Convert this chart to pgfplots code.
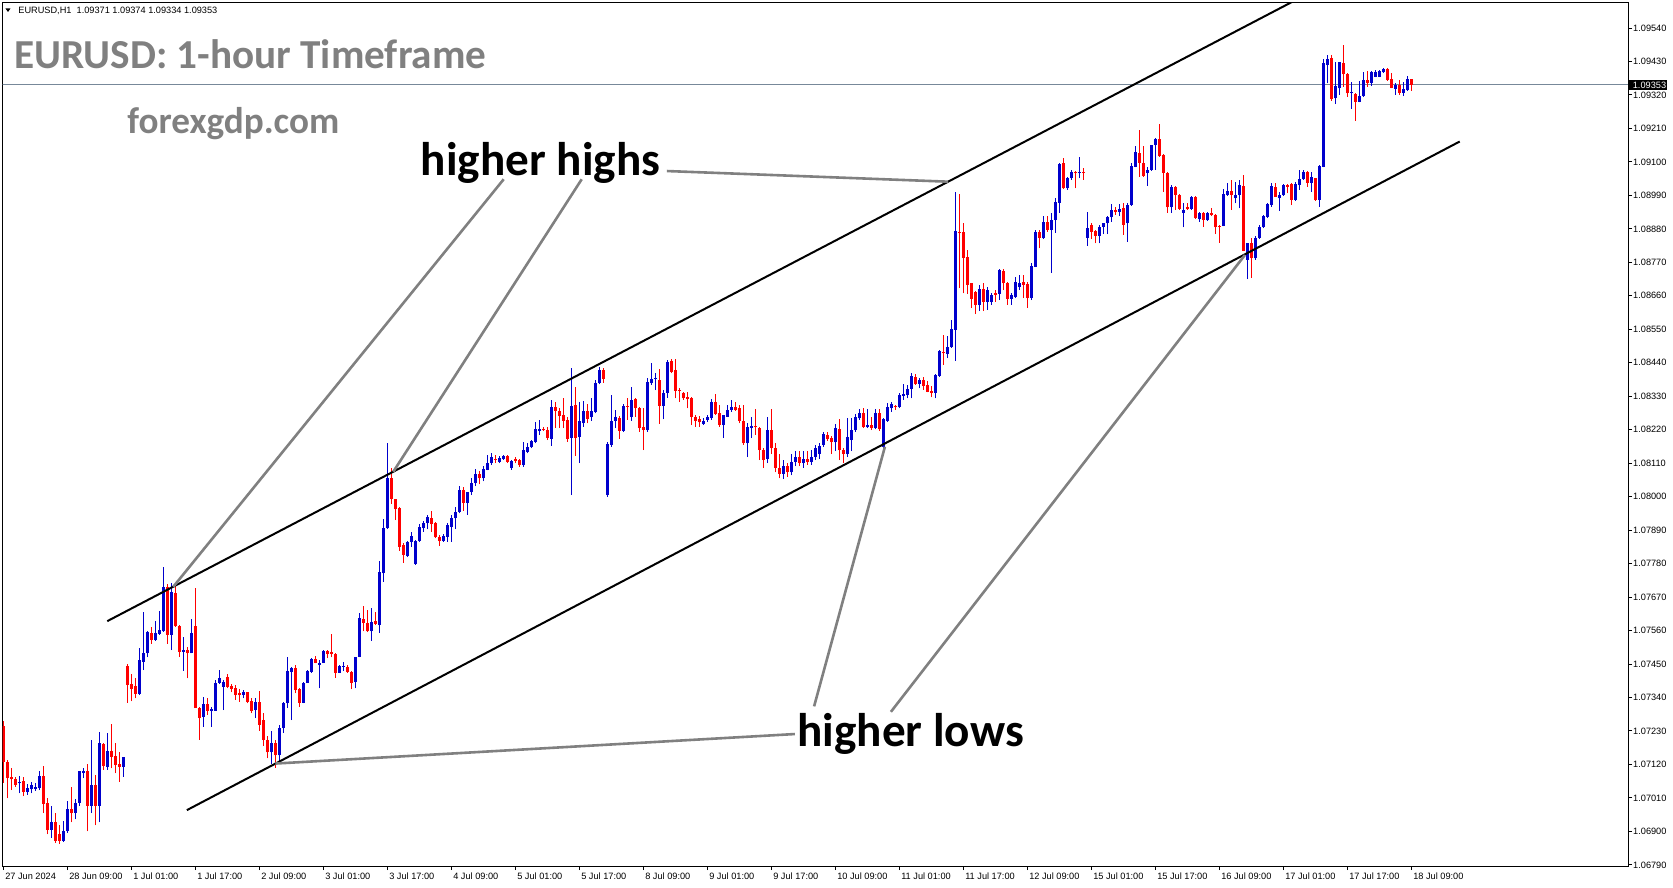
\documentclass[border=0pt]{standalone}
\usepackage{fontspec}
\setmainfont{Carlito}
\newfontfamily\lib{Liberation Sans}
\usepackage{pgfplots}
\usepackage{pgfplotstable}
\pgfplotsset{compat=1.18}

\definecolor{mtblue}{RGB}{0,0,204}
\definecolor{mtred}{RGB}{255,0,0}
\definecolor{anngray}{RGB}{128,128,128}
\definecolor{bidline}{RGB}{119,136,153}

% EURUSD H1, bar index from 27 Jun 17:00 (0) to 18 Jul 09:00 (352)
\pgfplotstableread{
i o h l c
0 1.07245 1.07262 1.07060 1.07129
1 1.07129 1.07135 1.07009 1.07075
2 1.07078 1.07107 1.07036 1.07071
3 1.07072 1.07080 1.07047 1.07053
4 1.07058 1.07082 1.07025 1.07064
5 1.07066 1.07080 1.07016 1.07031
6 1.07031 1.07056 1.07020 1.07042
7 1.07038 1.07061 1.07025 1.07053
8 1.07040 1.07058 1.07033 1.07047
9 1.07044 1.07099 1.07036 1.07082
10 1.07082 1.07115 1.06960 1.06990
11 1.06995 1.07010 1.06890 1.06905
12 1.06905 1.06985 1.06880 1.06930
13 1.06930 1.06960 1.06862 1.06870
14 1.06890 1.06920 1.06860 1.06870
15 1.06870 1.06935 1.06865 1.06900
16 1.06900 1.07000 1.06895 1.06975
17 1.06975 1.07047 1.06930 1.06960
18 1.06960 1.07006 1.06940 1.06995
19 1.06995 1.07099 1.06985 1.07099
20 1.07093 1.07107 1.07075 1.07099
21 1.07099 1.07122 1.06900 1.06985
22 1.06985 1.07201 1.06960 1.07053
23 1.07053 1.07084 1.06920 1.06985
24 1.06985 1.07226 1.06930 1.07190
25 1.07187 1.07190 1.07102 1.07115
26 1.07113 1.07222 1.07102 1.07164
27 1.07164 1.07253 1.07107 1.07146
28 1.07149 1.07190 1.07091 1.07118
29 1.07122 1.07162 1.07064 1.07113
30 1.07113 1.07146 1.07080 1.07146
31 1.07444 1.07450 1.07323 1.07381
32 1.07385 1.07417 1.07327 1.07368
33 1.07378 1.07403 1.07337 1.07352
34 1.07352 1.07502 1.07348 1.07463
35 1.07458 1.07622 1.07430 1.07485
36 1.07485 1.07557 1.07472 1.07554
37 1.07551 1.07573 1.07516 1.07529
38 1.07529 1.07592 1.07527 1.07551
39 1.07549 1.07624 1.07546 1.07562
40 1.07557 1.07768 1.07556 1.07702
41 1.07702 1.07712 1.07516 1.07546
42 1.07546 1.07715 1.07496 1.07688
43 1.07685 1.07710 1.07573 1.07575
44 1.07575 1.07578 1.07474 1.07491
45 1.07491 1.07540 1.07428 1.07496
46 1.07496 1.07507 1.07403 1.07485
47 1.07485 1.07598 1.07485 1.07551
48 1.07575 1.07699 1.07305 1.07305
49 1.07305 1.07310 1.07201 1.07272
50 1.07277 1.07343 1.07244 1.07318
51 1.07318 1.07338 1.07283 1.07297
52 1.07297 1.07310 1.07244 1.07302
53 1.07297 1.07398 1.07297 1.07389
54 1.07389 1.07431 1.07385 1.07405
55 1.07376 1.07398 1.07299 1.07390
56 1.07407 1.07417 1.07370 1.07376
57 1.07379 1.07384 1.07357 1.07368
58 1.07370 1.07381 1.07332 1.07348
59 1.07354 1.07367 1.07326 1.07348
60 1.07348 1.07365 1.07337 1.07357
61 1.07357 1.07359 1.07321 1.07326
62 1.07330 1.07337 1.07288 1.07297
63 1.07299 1.07337 1.07272 1.07326
64 1.07326 1.07363 1.07230 1.07250
65 1.07266 1.07288 1.07180 1.07200
66 1.07200 1.07215 1.07140 1.07160
67 1.07160 1.07230 1.07120 1.07190
68 1.07190 1.07200 1.07110 1.07150
69 1.07150 1.07250 1.07130 1.07240
70 1.07240 1.07325 1.07225 1.07323
71 1.07321 1.07474 1.07305 1.07427
72 1.07425 1.07441 1.07266 1.07436
73 1.07436 1.07447 1.07354 1.07365
74 1.07368 1.07370 1.07310 1.07323
75 1.07323 1.07392 1.07321 1.07387
76 1.07387 1.07430 1.07387 1.07427
77 1.07425 1.07469 1.07422 1.07467
78 1.07467 1.07477 1.07452 1.07455
79 1.07447 1.07463 1.07370 1.07453
80 1.07453 1.07496 1.07453 1.07494
81 1.07494 1.07496 1.07469 1.07483
82 1.07488 1.07549 1.07472 1.07483
83 1.07483 1.07485 1.07405 1.07422
84 1.07422 1.07447 1.07420 1.07444
85 1.07441 1.07458 1.07427 1.07441
86 1.07441 1.07447 1.07422 1.07425
87 1.07425 1.07427 1.07367 1.07389
88 1.07392 1.07474 1.07370 1.07472
89 1.07474 1.07619 1.07472 1.07602
90 1.07597 1.07641 1.07557 1.07586
91 1.07584 1.07628 1.07555 1.07557
92 1.07557 1.07633 1.07527 1.07589
93 1.07592 1.07622 1.07578 1.07582
94 1.07578 1.07787 1.07553 1.07754
95 1.07748 1.07926 1.07721 1.07898
96 1.07896 1.08175 1.07894 1.08062
97 1.08062 1.08093 1.07976 1.07991
98 1.07991 1.07993 1.07923 1.07958
99 1.07964 1.07966 1.07823 1.07836
100 1.07841 1.07847 1.07783 1.07808
101 1.07805 1.07855 1.07801 1.07852
102 1.07852 1.07885 1.07836 1.07872
103 1.07779 1.07857 1.07777 1.07855
104 1.07854 1.07910 1.07852 1.07901
105 1.07898 1.07920 1.07885 1.07912
106 1.07912 1.07940 1.07893 1.07932
107 1.07931 1.07953 1.07885 1.07909
108 1.07915 1.07918 1.07863 1.07866
109 1.07866 1.07874 1.07839 1.07854
110 1.07854 1.07877 1.07852 1.07872
111 1.07869 1.07912 1.07852 1.07907
112 1.07901 1.07940 1.07852 1.07931
113 1.07929 1.07967 1.07893 1.07951
114 1.07949 1.08035 1.07945 1.08022
115 1.08022 1.08033 1.07954 1.07980
116 1.07980 1.08016 1.07940 1.08016
117 1.08016 1.08060 1.08005 1.08045
118 1.08045 1.08090 1.08035 1.08075
119 1.08075 1.08085 1.08040 1.08060
120 1.08060 1.08100 1.08050 1.08090
121 1.08088 1.08137 1.08086 1.08110
122 1.08110 1.08142 1.08105 1.08129
123 1.08125 1.08137 1.08110 1.08121
124 1.08115 1.08134 1.08110 1.08126
125 1.08123 1.08137 1.08121 1.08134
126 1.08134 1.08137 1.08110 1.08115
127 1.08095 1.08121 1.08088 1.08117
128 1.08123 1.08130 1.08110 1.08118
129 1.08121 1.08123 1.08099 1.08104
130 1.08104 1.08181 1.08099 1.08153
131 1.08148 1.08175 1.08142 1.08164
132 1.08162 1.08186 1.08159 1.08184
133 1.08181 1.08247 1.08175 1.08223
134 1.08217 1.08252 1.08203 1.08223
135 1.08223 1.08228 1.08215 1.08219
136 1.08219 1.08230 1.08186 1.08194
137 1.08190 1.08318 1.08167 1.08294
138 1.08294 1.08310 1.08225 1.08283
139 1.08283 1.08290 1.08225 1.08265
140 1.08268 1.08323 1.08225 1.08250
141 1.08252 1.08261 1.08180 1.08190
142 1.08194 1.08422 1.08005 1.08298
143 1.08301 1.08362 1.08135 1.08194
144 1.08196 1.08312 1.08110 1.08247
145 1.08241 1.08314 1.08230 1.08283
146 1.08283 1.08305 1.08241 1.08256
147 1.08261 1.08323 1.08250 1.08283
148 1.08279 1.08383 1.08274 1.08375
149 1.08372 1.08427 1.08369 1.08416
150 1.08416 1.08422 1.08375 1.08386
151 1.08005 1.08180 1.08000 1.08173
152 1.08170 1.08334 1.08164 1.08250
153 1.08250 1.08285 1.08225 1.08263
154 1.08260 1.08265 1.08190 1.08216
155 1.08217 1.08305 1.08212 1.08298
156 1.08298 1.08323 1.08252 1.08294
157 1.08263 1.08361 1.08250 1.08318
158 1.08320 1.08323 1.08263 1.08290
159 1.08290 1.08294 1.08214 1.08225
160 1.08230 1.08290 1.08153 1.08219
161 1.08219 1.08389 1.08214 1.08378
162 1.08372 1.08438 1.08367 1.08386
163 1.08386 1.08405 1.08350 1.08386
164 1.08383 1.08420 1.08240 1.08298
165 1.08298 1.08350 1.08254 1.08340
166 1.08342 1.08449 1.08325 1.08444
167 1.08447 1.08453 1.08405 1.08411
168 1.08416 1.08453 1.08323 1.08348
169 1.08351 1.08356 1.08312 1.08348
170 1.08340 1.08345 1.08318 1.08323
171 1.08326 1.08345 1.08290 1.08320
172 1.08323 1.08328 1.08235 1.08263
173 1.08263 1.08267 1.08230 1.08250
174 1.08255 1.08266 1.08230 1.08244
175 1.08239 1.08257 1.08236 1.08250
176 1.08252 1.08268 1.08246 1.08263
177 1.08257 1.08320 1.08252 1.08312
178 1.08312 1.08337 1.08268 1.08272
179 1.08274 1.08301 1.08230 1.08236
180 1.08236 1.08268 1.08192 1.08268
181 1.08263 1.08301 1.08261 1.08285
182 1.08285 1.08316 1.08279 1.08296
183 1.08296 1.08312 1.08283 1.08285
184 1.08290 1.08301 1.08241 1.08250
185 1.08250 1.08301 1.08170 1.08175
186 1.08175 1.08241 1.08130 1.08228
187 1.08225 1.08263 1.08192 1.08233
188 1.08233 1.08287 1.08203 1.08228
189 1.08225 1.08230 1.08120 1.08153
190 1.08153 1.08160 1.08095 1.08120
191 1.08125 1.08263 1.08110 1.08220
192 1.08220 1.08287 1.08140 1.08159
193 1.08159 1.08175 1.08080 1.08095
194 1.08095 1.08140 1.08060 1.08075
195 1.08075 1.08120 1.08058 1.08100
196 1.08100 1.08110 1.08065 1.08080
197 1.08080 1.08140 1.08070 1.08115
198 1.08115 1.08150 1.08100 1.08130
199 1.08130 1.08150 1.08100 1.08110
200 1.08110 1.08150 1.08095 1.08125
201 1.08125 1.08150 1.08105 1.08115
202 1.08115 1.08155 1.08105 1.08130
203 1.08130 1.08170 1.08120 1.08160
204 1.08140 1.08175 1.08125 1.08168
205 1.08170 1.08214 1.08164 1.08206
206 1.08203 1.08214 1.08184 1.08189
207 1.08192 1.08200 1.08140 1.08178
208 1.08178 1.08239 1.08150 1.08227
209 1.08222 1.08255 1.08120 1.08153
210 1.08153 1.08160 1.08110 1.08140
211 1.08140 1.08257 1.08130 1.08195
212 1.08186 1.08257 1.08150 1.08219
213 1.08219 1.08272 1.08214 1.08263
214 1.08257 1.08287 1.08252 1.08276
215 1.08276 1.08290 1.08225 1.08228
216 1.08228 1.08287 1.08225 1.08236
217 1.08236 1.08261 1.08219 1.08225
218 1.08225 1.08287 1.08221 1.08276
219 1.08276 1.08287 1.08217 1.08221
220 1.08164 1.08257 1.08159 1.08254
221 1.08250 1.08307 1.08246 1.08294
222 1.08290 1.08312 1.08279 1.08304
223 1.08296 1.08301 1.08285 1.08293
224 1.08293 1.08340 1.08290 1.08333
225 1.08331 1.08370 1.08318 1.08337
226 1.08334 1.08367 1.08323 1.08354
227 1.08353 1.08405 1.08323 1.08397
228 1.08394 1.08403 1.08367 1.08370
229 1.08370 1.08389 1.08356 1.08383
230 1.08383 1.08392 1.08351 1.08364
231 1.08367 1.08380 1.08343 1.08345
232 1.08348 1.08364 1.08326 1.08342
233 1.08342 1.08403 1.08323 1.08400
234 1.08398 1.08482 1.08394 1.08480
235 1.08476 1.08531 1.08433 1.08471
236 1.08469 1.08528 1.08455 1.08493
237 1.08491 1.08580 1.08489 1.08551
238 1.08548 1.09002 1.08447 1.08873
239 1.08870 1.08995 1.08685 1.08866
240 1.08869 1.08898 1.08668 1.08785
241 1.08787 1.08811 1.08666 1.08696
242 1.08701 1.08703 1.08620 1.08650
243 1.08674 1.08676 1.08600 1.08630
244 1.08630 1.08696 1.08610 1.08682
245 1.08682 1.08701 1.08610 1.08640
246 1.08640 1.08690 1.08615 1.08679
247 1.08640 1.08670 1.08630 1.08663
248 1.08668 1.08680 1.08640 1.08664
249 1.08666 1.08747 1.08646 1.08745
250 1.08741 1.08747 1.08679 1.08701
251 1.08701 1.08705 1.08630 1.08650
252 1.08650 1.08670 1.08630 1.08664
253 1.08657 1.08723 1.08652 1.08704
254 1.08690 1.08728 1.08679 1.08703
255 1.08704 1.08728 1.08652 1.08696
256 1.08699 1.08704 1.08620 1.08652
257 1.08652 1.08767 1.08646 1.08758
258 1.08756 1.08877 1.08754 1.08871
259 1.08871 1.08877 1.08816 1.08851
260 1.08849 1.08922 1.08846 1.08904
261 1.08904 1.08922 1.08871 1.08876
262 1.08876 1.08931 1.08736 1.08909
263 1.08909 1.08980 1.08868 1.08969
264 1.08966 1.09098 1.08933 1.09093
265 1.09095 1.09112 1.09010 1.09013
266 1.09013 1.09052 1.09008 1.09046
267 1.09046 1.09074 1.09041 1.09068
268 1.09067 1.09069 1.09013 1.09063
269 1.09063 1.09117 1.09046 1.09067
270 1.09067 1.09079 1.09041 1.09063
271 1.08851 1.08934 1.08824 1.08882
272 1.08893 1.08900 1.08846 1.08871
273 1.08874 1.08876 1.08832 1.08858
274 1.08858 1.08893 1.08832 1.08887
275 1.08887 1.08900 1.08863 1.08898
276 1.08898 1.08922 1.08863 1.08918
277 1.08918 1.08962 1.08904 1.08942
278 1.08942 1.08953 1.08926 1.08937
279 1.08937 1.08962 1.08922 1.08944
280 1.08947 1.08966 1.08860 1.08893
281 1.08898 1.08964 1.08838 1.08958
282 1.08958 1.09097 1.08956 1.09086
283 1.09084 1.09152 1.09082 1.09134
284 1.09128 1.09205 1.09052 1.09097
285 1.09097 1.09152 1.09052 1.09054
286 1.09063 1.09084 1.09021 1.09073
287 1.09073 1.09157 1.09071 1.09155
288 1.09155 1.09177 1.09073 1.09174
289 1.09174 1.09224 1.09117 1.09119
290 1.09123 1.09125 1.09001 1.09065
291 1.09065 1.09068 1.08933 1.08951
292 1.08951 1.09024 1.08933 1.09019
293 1.09019 1.09021 1.08942 1.08991
294 1.08991 1.08995 1.08942 1.08945
295 1.08933 1.08964 1.08885 1.08942
296 1.08953 1.08964 1.08942 1.08944
297 1.08944 1.08988 1.08942 1.08986
298 1.08986 1.08988 1.08912 1.08915
299 1.08911 1.08936 1.08904 1.08933
300 1.08933 1.08936 1.08887 1.08909
301 1.08909 1.08936 1.08907 1.08933
302 1.08931 1.08947 1.08922 1.08925
303 1.08925 1.08929 1.08863 1.08885
304 1.08890 1.08892 1.08835 1.08887
305 1.08890 1.09010 1.08888 1.08995
306 1.08991 1.09030 1.08989 1.09004
307 1.09004 1.09041 1.08942 1.08991
308 1.08980 1.09035 1.08964 1.08991
309 1.08991 1.09041 1.08947 1.09024
310 1.09022 1.09057 1.08806 1.08808
311 1.08778 1.08834 1.08715 1.08832
312 1.08832 1.08849 1.08720 1.08783
313 1.08783 1.08855 1.08778 1.08849
314 1.08849 1.08893 1.08846 1.08887
315 1.08885 1.08924 1.08882 1.08922
316 1.08920 1.08964 1.08915 1.08962
317 1.08958 1.09030 1.08953 1.09021
318 1.09019 1.09030 1.08984 1.08986
319 1.08980 1.09002 1.08940 1.08991
320 1.08991 1.09026 1.08988 1.09024
321 1.09024 1.09027 1.08997 1.09019
322 1.09027 1.09030 1.08958 1.08975
323 1.08975 1.09035 1.08973 1.09027
324 1.09024 1.09073 1.09008 1.09043
325 1.09043 1.09073 1.09041 1.09068
326 1.09068 1.09070 1.09019 1.09032
327 1.09032 1.09068 1.09002 1.09052
328 1.09046 1.09048 1.08973 1.08975
329 1.08975 1.09090 1.08953 1.09086
330 1.09084 1.09437 1.09082 1.09424
331 1.09418 1.09451 1.09358 1.09437
332 1.09440 1.09451 1.09301 1.09306
333 1.09309 1.09429 1.09290 1.09349
334 1.09342 1.09429 1.09320 1.09427
335 1.09424 1.09484 1.09347 1.09388
336 1.09389 1.09391 1.09314 1.09325
337 1.09327 1.09361 1.09274 1.09329
338 1.09323 1.09325 1.09235 1.09298
339 1.09298 1.09366 1.09296 1.09316
340 1.09316 1.09396 1.09314 1.09369
341 1.09369 1.09399 1.09347 1.09360
342 1.09360 1.09399 1.09349 1.09394
343 1.09380 1.09401 1.09378 1.09396
344 1.09380 1.09401 1.09378 1.09399
345 1.09394 1.09410 1.09392 1.09405
346 1.09405 1.09407 1.09367 1.09369
347 1.09371 1.09391 1.09342 1.09344
348 1.09340 1.09358 1.09320 1.09353
349 1.09353 1.09369 1.09320 1.09327
350 1.09327 1.09364 1.09316 1.09338
351 1.09336 1.09382 1.09333 1.09371
352 1.09371 1.09374 1.09334 1.09353
}\candles

% candle layers: no line, no marker, only the vertical error bar
\pgfplotsset{
  candlepart/.style n args={2}{draw=none, mark=none, forget plot,
    error bars/y dir=plus, error bars/y explicit, error bars/error mark=none,
    error bars/error bar style={draw=#1, solid, line width=#2}},
}

\begin{document}
\begin{tikzpicture}
\path[use as bounding box] (-1.35bp,-11bp) rectangle (835.15bp,433bp);
\begin{axis}[
  at={(0,0)}, anchor=south west,
  scale only axis, width=812.65bp, height=431.5bp,
  xmin=-0.15, xmax=406.175,
  ymin=1.067864, ymax=1.096222,
  axis line style={line width=0.5bp},
  tick align=outside, major tick length=2bp,
  tick style={line width=0.5bp, black},
  xtick pos=left, xticklabel pos=left,
  ytick pos=right, yticklabel pos=right,
  xtick={0,16,...,352},
  xticklabels={27 Jun 2024,28 Jun 09:00,1 Jul 01:00,1 Jul 17:00,2 Jul 09:00,3 Jul 01:00,3 Jul 17:00,4 Jul 09:00,5 Jul 01:00,5 Jul 17:00,8 Jul 09:00,9 Jul 01:00,9 Jul 17:00,10 Jul 09:00,11 Jul 01:00,11 Jul 17:00,12 Jul 09:00,15 Jul 01:00,15 Jul 17:00,16 Jul 09:00,17 Jul 01:00,17 Jul 17:00,18 Jul 09:00},
  xticklabel style={font=\lib\fontsize{4.6bp}{5bp}\selectfont, anchor=north west, inner sep=0pt, xshift=0.8bp, yshift=-1.2bp},
  ytick={1.0679,1.069,1.0701,1.0712,1.0723,1.0734,1.0745,1.0756,1.0767,1.0778,1.0789,1.08,1.0811,1.0822,1.0833,1.0844,1.0855,1.0866,1.0877,1.0888,1.0899,1.091,1.0921,1.0932,1.0943,1.0954},
  yticklabels={1.06790,1.06900,1.07010,1.07120,1.07230,1.07340,1.07450,1.07560,1.07670,1.07780,1.07890,1.08000,1.08110,1.08220,1.08330,1.08440,1.08550,1.08660,1.08770,1.08880,1.08990,1.09100,1.09210,1.09320,1.09430,1.09540},
  yticklabel style={font=\lib\fontsize{4.6bp}{5bp}\selectfont, anchor=west, inner sep=0pt, xshift=0.4bp},
]
% bid line
\addplot[bidline, line width=0.5bp, mark=none, forget plot] coordinates {(-1,1.09353) (410,1.09353)};

% wicks
\addplot[candlepart={mtblue}{0.5bp},
  x filter/.expression={\thisrow{c}<\thisrow{o} ? nan : x}]
  table[x=i, y=l, y error plus expr=\thisrow{h}-\thisrow{l}] {\candles};
\addplot[candlepart={mtred}{0.5bp},
  x filter/.expression={\thisrow{c}<\thisrow{o} ? x : nan}]
  table[x=i, y=l, y error plus expr=\thisrow{h}-\thisrow{l}] {\candles};

% bodies
\addplot[candlepart={mtblue}{1.5bp},
  x filter/.expression={\thisrow{c}<\thisrow{o} ? nan : x}]
  table[x=i, y=o, y error plus expr={max(\thisrow{c}-\thisrow{o},0.000033)}] {\candles};
\addplot[candlepart={mtred}{1.5bp},
  x filter/.expression={\thisrow{c}<\thisrow{o} ? x : nan}]
  table[x=i, y=c, y error plus expr={max(\thisrow{o}-\thisrow{c},0.000033)}] {\candles};

% channel
\draw[black, line width=1bp] (axis cs:26,1.07591) -- (axis cs:325,1.09645);
\draw[black, line width=1bp] (axis cs:45.9,1.06970) -- (axis cs:364.1,1.09167);

% pointers
\draw[anngray, line width=1.3bp] (axis cs:125.1,1.09043) -- (axis cs:42.5,1.07704);
\draw[anngray, line width=1.3bp] (axis cs:144.6,1.09043) -- (axis cs:97.5,1.08082);
\draw[anngray, line width=1.3bp] (axis cs:165.9,1.09070) -- (axis cs:236.2,1.09035);
\draw[anngray, line width=1.3bp] (axis cs:197.9,1.07220) -- (axis cs:68,1.07123);
\draw[anngray, line width=1.3bp] (axis cs:202.7,1.07311) -- (axis cs:220.4,1.08164);
\draw[anngray, line width=1.3bp] (axis cs:221.9,1.07293) -- (axis cs:310.4,1.08794);
\end{axis}

% texts, placed in screen pixels of the reference (0.5bp per pixel, y downwards)
\begin{scope}[shift={(-1.35bp,433bp)}, x=0.5bp, y=-0.5bp]
  \fill[black] (5.5,8.5) -- (10.5,8.5) -- (8,12) -- cycle;
  \node[anchor=base west, inner sep=0pt, font=\lib\fontsize{4.6bp}{5bp}\selectfont] at (18,14) {EURUSD,H1\ \ 1.09371 1.09374 1.09334 1.09353};
  \node[anchor=base west, inner sep=0pt, text=anngray, font=\bfseries\fontsize{20.6bp}{24bp}\selectfont] at (14,68.3) {EURUSD: 1-hour Timeframe};
  \node[anchor=base west, inner sep=0pt, text=anngray, font=\bfseries\fontsize{18.6bp}{22bp}\selectfont] at (127,133.5) {forexgdp.com};
  \node[anchor=base west, inner sep=0pt, font=\bfseries\fontsize{23.6bp}{28bp}\selectfont] at (420.5,176) {higher highs};
  \node[anchor=base west, inner sep=0pt, font=\bfseries\fontsize{23.6bp}{28bp}\selectfont] at (797,747) {higher lows};
  \fill[black] (1628.5,80) rectangle (1667,90);
  \node[anchor=west, inner sep=0pt, text=white, font=\lib\fontsize{4.6bp}{5bp}\selectfont] at (1632.5,85) {1.09353};
\end{scope}
\end{tikzpicture}
\end{document}
